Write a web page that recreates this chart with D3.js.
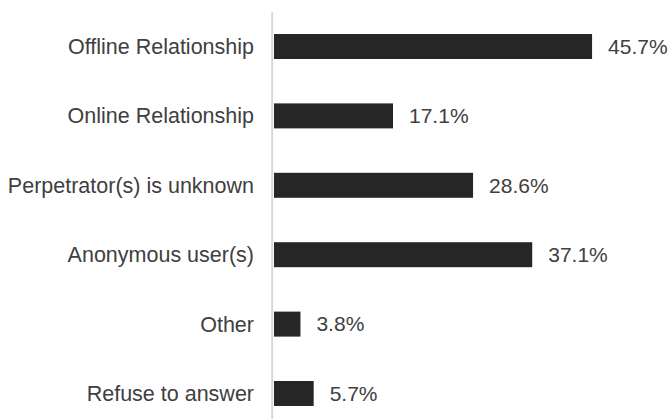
<!DOCTYPE html>
<html>
<head>
<meta charset="utf-8">
<script src="https://cdn.jsdelivr.net/npm/d3@7"></script>
<style>
  html, body { margin: 0; padding: 0; background: #fff; }
  svg { display: block; }
</style>
</head>
<body>
<svg id="chart" width="669" height="419"></svg>
<script>
const categories = ["Offline Relationship", "Online Relationship", "Perpetrator(s) is unknown", "Anonymous user(s)", "Other", "Refuse to answer"];
const values = [45.7, 17.1, 28.6, 37.1, 3.8, 5.7];
const valueLabels = ["45.7%", "17.1%", "28.6%", "37.1%", "3.8%", "5.7%"];

const svg = d3.select("#chart");
const font = "'Liberation Sans', Arial, sans-serif";

const y = d3.scaleBand()
  .domain(categories)
  .range([11.8, 428.2])
  .paddingInner(0.64)
  .paddingOuter(0.32);

const x = d3.scaleLinear()
  .domain([0, 50])
  .range([274, 622]);

// axis line
svg.append("line")
  .attr("x1", 272.2).attr("x2", 272.2)
  .attr("y1", 12).attr("y2", 419)
  .attr("stroke", "#d9d9d9")
  .attr("stroke-width", 2);

const data = categories.map((c, i) => ({ c, v: values[i], l: valueLabels[i] }));

svg.selectAll("rect.bar")
  .data(data)
  .join("rect")
  .attr("class", "bar")
  .attr("x", x(0))
  .attr("y", d => y(d.c))
  .attr("width", d => x(d.v) - x(0))
  .attr("height", y.bandwidth())
  .attr("fill", "#262626");

svg.selectAll("text.cat")
  .data(data)
  .join("text")
  .attr("class", "cat")
  .attr("x", 254)
  .attr("y", d => y(d.c) + y.bandwidth() / 2)
  .attr("dy", "0.35em")
  .attr("text-anchor", "end")
  .attr("font-family", font)
  .attr("font-size", "21.5px")
  .attr("fill", "#404040")
  .text(d => d.c);

svg.selectAll("text.val")
  .data(data)
  .join("text")
  .attr("class", "val")
  .attr("x", d => x(d.v) + 16)
  .attr("y", d => y(d.c) + y.bandwidth() / 2)
  .attr("dy", "0.35em")
  .attr("font-family", font)
  .attr("font-size", "21px")
  .attr("fill", "#404040")
  .text(d => d.l);
</script>
</body>
</html>
